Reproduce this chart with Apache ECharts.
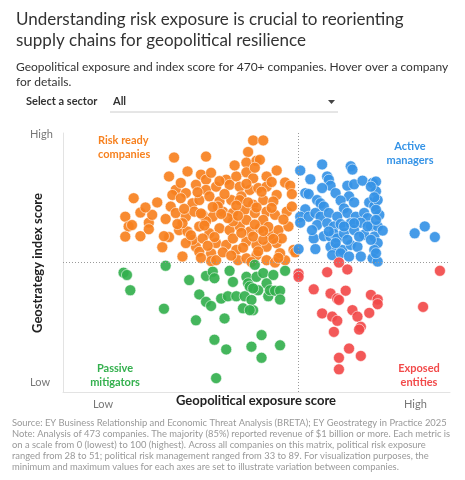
<!DOCTYPE html>
<html>
<head>
<meta charset="utf-8">
<script src="https://cdn.jsdelivr.net/npm/echarts@6/dist/echarts.min.js"></script>
<style>
  html, body { margin: 0; padding: 0; background: #fff; }
  #chart { width: 465px; height: 480px; }
</style>
</head>
<body>
<div id="chart"></div>
<script>
// x = political risk exposure, y = political risk management (geostrategy index)
var xRange = [28, 51];
var yRange = [33, 89];
var xSplit = 42;
var ySplit = 61;

var riskReady = [
  [39.3,87.4],[39.9,87.4],[39.0,84.9],[34.6,83.7],[36.5,83.9],[38.9,82.6],[39.5,83.0],[39.7,83.2],
  [35.4,80.7],[34.3,79.6],[36.2,80.0],[36.5,78.9],[37.7,78.9],[38.3,79.6],[38.9,80.5],[39.3,79.2],
  [40.1,79.6],[40.7,80.9],[41.2,78.3],[41.5,77.6],[34.7,76.7],[35.3,76.0],[35.9,77.8],[36.5,76.7],
  [37.1,77.4],[37.9,77.8],[38.5,77.4],[39.1,76.7],[39.6,77.1],[40.1,77.4],[40.7,75.6],[32.2,74.9],
  [34.5,75.6],[35.0,74.9],[35.7,73.8],[36.1,74.5],[36.7,75.3],[37.3,74.2],[38.0,74.5],[38.6,75.3],
  [39.3,73.5],[39.9,74.5],[40.5,74.2],[31.7,70.9],[31.9,68.8],[32.1,69.1],[32.6,71.8],[33.1,69.6],
  [33.3,71.3],[34.1,70.4],[34.4,73.1],[34.7,71.7],[35.3,70.9],[35.8,72.0],[36.3,71.3],[36.9,70.9],
  [37.5,72.0],[38.1,71.7],[38.8,72.4],[39.4,71.7],[40.1,72.0],[40.6,71.3],[41.3,72.0],[41.6,73.1],
  [31.7,66.6],[32.6,66.7],[33.1,68.2],[34.3,66.5],[34.9,68.0],[35.4,67.7],[36.1,68.8],[36.7,67.3],
  [37.3,68.4],[37.9,68.0],[38.5,68.8],[39.1,67.7],[39.7,68.4],[40.3,67.0],[40.8,68.0],[41.4,68.8],
  [33.9,64.3],[35.1,62.3],[35.9,64.4],[36.1,63.3],[36.8,63.0],[37.1,65.2],[37.7,64.8],[38.3,63.7],
  [38.9,65.5],[39.5,64.8],[40.1,64.4],[40.7,65.2],[41.7,63.7],[41.8,63.2],[36.8,61.3],[38.4,61.5],
  [38.9,61.9],[39.5,62.6],[40.1,61.5],[40.6,61.0],[41.2,61.5],[35.1,69.5],[36.5,69.9],[37.2,73.1],
  [38.1,69.9],[38.9,70.2],[39.9,70.2],[35.7,65.9],[36.3,66.2],[39.3,66.6],[38.1,66.2],[39.9,65.9],
  [40.9,63.0],[35.3,65.2],[37.1,61.5],[38.5,74.5],
  [36.0,76.2],[36.9,73.0],[37.6,75.8],[38.3,73.3],[39.0,74.0],[39.8,76.3],[40.4,72.8],[35.2,72.6],
  [36.4,69.0],[37.0,66.5],[37.8,70.6],[38.6,67.4],[39.4,69.2],[40.2,68.7],[41.0,66.2],[35.6,66.9],
  [36.6,64.6],[37.5,63.2],[38.7,64.2],[39.6,63.4],[40.5,66.1],[41.1,70.3],[34.8,69.3],[37.3,78.6],
  [38.9,78.0],[40.4,78.4],[36.8,80.4],[39.4,81.5],[38.2,82.0],[35.0,78.2],[33.6,74.0],[32.9,72.9],
  [34.0,66.7],[41.6,75.8],[40.8,62.0],[39.2,61.1],[38.0,62.5],[36.2,62.0],[39.9,67.8],[37.4,71.5],
  [38.4,71.1],[39.5,72.9],[36.2,71.6]
];

var activeManagers = [
  [42.1,80.9],[42.7,79.0],[43.4,82.2],[43.7,79.6],[43.8,78.9],[43.9,77.6],[43.4,77.1],[44.2,76.0],
  [45.1,81.8],[45.2,81.1],[44.9,77.6],[45.3,77.9],[45.8,78.7],[46.4,78.2],[46.6,78.5],[46.6,76.4],
  [42.4,76.0],[42.6,75.8],[45.0,75.3],[43.1,74.5],[43.3,73.8],[43.5,73.1],[44.5,74.4],[45.3,74.0],
  [44.7,72.7],[46.2,74.0],[46.5,73.2],[46.7,74.5],[42.4,72.5],[42.1,70.9],[42.6,70.9],[43.0,71.7],
  [43.3,70.9],[43.8,71.7],[44.3,70.9],[44.9,71.7],[45.4,70.9],[45.9,71.7],[46.1,70.6],[46.8,71.3],
  [43.1,69.1],[43.7,69.5],[44.1,68.8],[44.5,69.3],[45.1,69.5],[45.7,69.6],[46.3,68.9],[46.7,68.8],
  [42.1,69.6],[42.9,66.2],[43.5,66.7],[43.9,66.6],[44.1,67.2],[44.3,66.2],[44.7,67.3],[45.3,68.0],
  [45.9,67.0],[46.5,66.6],[47.0,67.9],[46.7,65.2],[43.0,63.9],[43.9,64.4],[44.3,64.1],[44.6,63.7],
  [45.1,64.8],[45.5,64.4],[46.5,63.7],[44.0,62.6],[44.5,63.0],[45.0,62.3],[45.7,62.3],[46.4,61.9],
  [46.7,61.2],[42.0,63.9],[48.9,67.3],[49.5,68.8],[50.1,66.5],[44.2,65.2],[44.9,65.9],[45.6,66.6],
  [46.3,65.9],[43.8,67.7],[45.3,69.5],[44.7,68.8],[42.8,68.0],[46.1,68.8],[46.5,75.1],[46.3,77.4],
  [46.6,72.4],[46.6,70.2],[46.6,63.0]
];

var passiveMitigators = [
  [31.6,58.8],[31.8,58.3],[32.0,55.0],[34.0,51.0],[34.1,60.3],[35.5,57.2],[35.9,48.5],[36.1,54.1],
  [36.5,58.1],[36.9,59.0],[37.0,57.6],[36.5,52.5],[36.8,51.6],[37.4,53.2],[37.6,48.9],[37.9,59.2],
  [37.8,53.7],[38.1,56.8],[38.3,53.7],[38.7,51.1],[38.8,53.7],[38.9,57.9],[39.0,56.5],[39.1,55.8],
  [39.3,50.7],[39.4,60.5],[39.5,57.9],[39.6,55.0],[39.2,52.9],[39.9,58.7],[40.1,56.5],[40.2,53.7],
  [40.3,55.0],[40.5,58.3],[40.6,54.9],[40.9,54.9],[40.9,53.0],[41.2,59.2],[37.0,44.3],[37.7,42.2],
  [39.2,42.8],[39.8,45.3],[39.8,40.4],[40.9,43.1],[37.1,36.0],[39.1,50.7],[39.3,55.4]
];

var exposedEntities = [
  [42.0,58.6],[42.0,57.9],[43.7,58.9],[44.4,61.0],[44.9,59.5],[42.9,55.2],[43.9,54.3],[44.3,53.2],
  [44.4,52.9],[44.8,54.9],[46.3,54.0],[46.7,53.0],[46.7,52.0],[43.4,50.0],[44.0,49.3],[44.3,48.4],
  [44.1,46.0],[45.2,50.7],[45.5,49.3],[45.7,47.1],[45.6,46.5],[46.2,50.1],[45.0,42.4],[45.7,40.8],
  [44.4,40.4],[44.4,37.9],[50.4,59.2],[49.4,51.4]
];

var groupNames = ['Risk ready companies', 'Active managers', 'Passive mitigators', 'Exposed entities'];
var groupColors = ['#f7811f', '#3593e6', '#34b04e', '#f24a4a'];
var groupData = [riskReady, activeManagers, passiveMitigators, exposedEntities];

var footnote = [
  'Source: EY Business Relationship and Economic Threat Analysis (BRETA); EY Geostrategy in Practice 2025',
  'Note: Analysis of 473 companies. The majority (85%) reported revenue of $1 billion or more. Each metric is',
  'on a scale from 0 (lowest) to 100 (highest). Across all companies on this matrix, political risk exposure',
  'ranged from 28 to 51; political risk management ranged from 33 to 89. For visualization purposes, the',
  'minimum and maximum values for each axes are set to illustrate variation between companies.'
].join('\n');

var font = 'Lato, "Noto Sans", sans-serif';
var chart = echarts.init(document.getElementById('chart'));

var series = groupData.map(function (d, i) {
  return {
    name: groupNames[i],
    type: 'scatter',
    data: d,
    symbolSize: 11,
    itemStyle: { color: groupColors[i], opacity: 0.92, borderColor: '#fff', borderWidth: 0.6 }
  };
});
// quadrant dividers
series.push({
  type: 'scatter',
  data: [],
  silent: true,
  markLine: {
    symbol: 'none',
    silent: true,
    label: { show: false },
    lineStyle: { color: '#9a9a9a', type: [1, 2], width: 1 },
    data: [{ xAxis: xSplit }, { yAxis: ySplit }]
  }
});

var option = {
  animation: false,
  title: {
    text: 'Understanding risk exposure is crucial to reorienting\nsupply chains for geopolitical resilience',
    subtext: 'Geopolitical exposure and index score for 470+ companies. Hover over a company\nfor details.',
    left: 11,
    top: 4,
    itemGap: 9,
    textStyle: { fontFamily: font, fontSize: 17, fontWeight: 'normal', color: '#333', lineHeight: 21 },
    subtextStyle: { fontFamily: font, fontSize: 12, color: '#333', lineHeight: 15 }
  },
  tooltip: { trigger: 'item' },
  grid: { left: 63, right: 15, top: 133, bottom: 88 },
  xAxis: {
    type: 'value', min: xRange[0], max: xRange[1],
    axisLine: { show: true, lineStyle: { color: '#e3e3e3' } },
    axisTick: { show: false }, axisLabel: { show: false }, splitLine: { show: false }
  },
  yAxis: {
    type: 'value', min: yRange[0], max: yRange[1],
    axisLine: { show: true, lineStyle: { color: '#e3e3e3' } },
    axisTick: { show: false }, axisLabel: { show: false }, splitLine: { show: false }
  },
  graphic: [
    { type: 'text', left: 26, top: 96, style: { text: 'Select a sector', font: 'bold 11px ' + font, fill: '#333' } },
    { type: 'text', left: 113, top: 96, style: { text: 'All', font: 'bold 11px ' + font, fill: '#333' } },
    { type: 'line', shape: { x1: 110, y1: 112, x2: 338, y2: 112 }, style: { stroke: '#ccc', lineWidth: 1 } },
    { type: 'polygon', shape: { points: [[328, 100], [335, 100], [331.5, 104]] }, style: { fill: '#444' } },
    { type: 'text', left: 30, top: 129, style: { text: 'High', font: '11px ' + font, fill: '#777' } },
    { type: 'text', left: 30, top: 377, style: { text: 'Low', font: '11px ' + font, fill: '#777' } },
    { type: 'text', x: 38, y: 263, rotation: Math.PI / 2,
      style: { text: 'Geostrategy index score', font: 'bold 13px ' + font, fill: '#222', align: 'center', verticalAlign: 'middle' } },
    { type: 'text', left: 93, top: 399, style: { text: 'Low', font: '11px ' + font, fill: '#777' } },
    { type: 'text', left: 404, top: 399, style: { text: 'High', font: '11px ' + font, fill: '#777' } },
    { type: 'text', x: 256, y: 394, style: { text: 'Geopolitical exposure score', font: 'bold 13px ' + font, fill: '#222', align: 'center' } },
    { type: 'text', left: 98, top: 133, style: { text: 'Risk ready\ncompanies', font: 'bold 11px ' + font, fill: groupColors[0], lineHeight: 14 } },
    { type: 'text', x: 410, y: 139, style: { text: 'Active\nmanagers', font: 'bold 11px ' + font, fill: groupColors[1], align: 'center', lineHeight: 14 } },
    { type: 'text', x: 115, y: 361, style: { text: 'Passive\nmitigators', font: 'bold 11px ' + font, fill: groupColors[2], align: 'center', lineHeight: 14 } },
    { type: 'text', x: 419, y: 361, style: { text: 'Exposed\nentities', font: 'bold 11px ' + font, fill: groupColors[3], align: 'center', lineHeight: 14 } },
    { type: 'text', left: 12, top: 417, style: { text: footnote, font: '9.4px ' + font, fill: '#999', lineHeight: 11 } }
  ],
  series: series
};

chart.setOption(option);
</script>
</body>
</html>
